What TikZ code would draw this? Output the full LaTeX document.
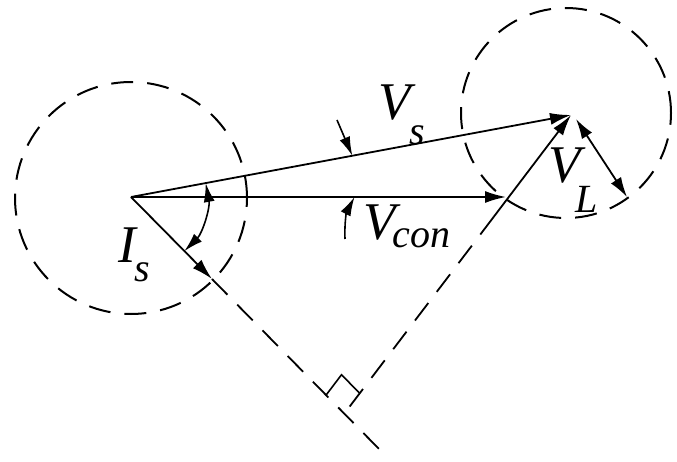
\documentclass[tikz,border=0pt]{standalone}
\usepackage{fontspec}
\setmainfont{Liberation Serif}
\usetikzlibrary{arrows.meta,calc}

% phasor name with a lowered index
\newcommand{\phname}[4]{#1\kern#4\raisebox{-#3}{\fontsize{40}{40}\selectfont #2}}

\begin{document}
\begin{tikzpicture}[
  x=1pt, y=-1pt,
  vec/.style={line width=1.8pt, -{Latex[length=21pt,width=12pt]}},
  marker/.style={line width=1.6pt, -{Latex[length=19pt,width=11pt]}},
  guide/.style={line width=1.8pt, dash pattern=on 22pt off 14pt},
  ring/.style={circle, draw, line width=2pt, dash pattern=on 22pt off 14pt, inner sep=0pt},
  lbl/.style={font=\fontsize{53}{53}\selectfont\itshape, inner sep=0pt, anchor=base west}
]
  \useasboundingbox (0,0) rectangle (677,462);

  \coordinate (O) at (131,197);
  \coordinate (P) at (571,115);
  \coordinate (F) at (344,414);
  \coordinate (C) at (506,197);
  \coordinate (S) at (493.6,217);
  \coordinate (T) at (212,279);
  \coordinate (E) at (382,452);

  % dashed circles
  \node[ring, minimum size=232pt] (srcring) at (131,198) {};
  \node[ring, minimum size=210pt] (loadring) at (566,113) {};

  % phasors
  \draw[vec] (O) -- (P);
  \draw[vec] (O) -- (C);
  \draw[vec] (O) -- (T);
  \draw[guide] (T) -- (E);
  \draw[vec] (S) -- (P);
  \draw[guide] (S) -- (F);

  % right angle
  \coordinate (A) at ($(F)!26pt!(O)$);
  \coordinate (B) at ($(F)!26pt!(P)$);
  \coordinate (K) at ($(A)+(B)-(F)$);
  \draw[line width=1.6pt] (A) -- (K) -- (B);

  % load drop
  \coordinate (L1) at (576,119);
  \coordinate (L2) at (627,197);
  \draw[line width=1.8pt, {Latex[length=20pt,width=12pt]}-{Latex[length=20pt,width=12pt]}] (L1) -- (L2);

  % angles
  \draw[line width=1.6pt, {Latex[length=19pt,width=11pt]}-{Latex[length=19pt,width=11pt]}]
    ($(O)+(-10.6:76)$) arc[start angle=-10.6, end angle=45.4, radius=76];
  \coordinate (m1s) at (337,120);
  \coordinate (m1e) at ($(O)!0.503!(P)$);
  \draw[marker] (m1s) -- (m1e);
  \coordinate (m2s) at (345,239);
  \coordinate (m2e) at ($(O)!0.596!(C)$);
  \draw[marker] (m2s) to[bend left=15] (m2e);

  % names
  \node[lbl] (vs) at (378,120) {\phname{V}{s}{25pt}{-1pt}};
  \node[lbl] (vcon) at (363,240) {\phname{V}{con}{8pt}{-3pt}};
  \node[lbl] (vl) at (548,183) {\phname{V}{L}{30pt}{-5pt}};
  \node[lbl] (is) at (118,263) {\phname{I}{s}{19pt}{-1pt}};
\end{tikzpicture}
\end{document}
